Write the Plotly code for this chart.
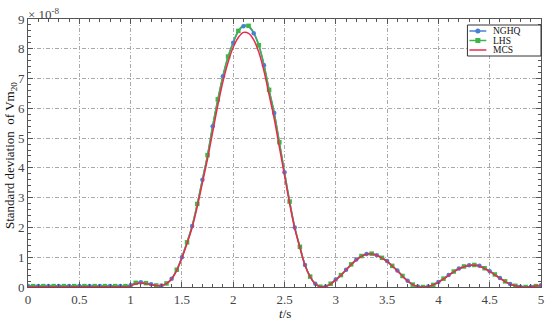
import plotly.graph_objects as go

# time axis (s), step 0.05
t = [round(i * 0.05, 2) for i in range(101)]

nghq = [0.03, 0.03, 0.03, 0.03, 0.03, 0.03, 0.03, 0.03, 0.03, 0.03,
        0.03, 0.03, 0.03, 0.03, 0.03, 0.03, 0.03, 0.03, 0.03, 0.03,
        0.06, 0.14, 0.16, 0.13, 0.09, 0.05, 0.05, 0.12, 0.28, 0.58,
        1.00, 1.50, 2.05, 2.78, 3.60, 4.42, 5.40, 6.28, 7.08, 7.72,
        8.20, 8.58, 8.76, 8.74, 8.52, 8.10, 7.45, 6.60, 5.84, 4.85,
        3.85, 2.87, 2.00, 1.35, 0.74, 0.35, 0.11, 0.01, 0.02, 0.11,
        0.25, 0.40, 0.58, 0.76, 0.92, 1.04, 1.11, 1.12, 1.07, 0.98,
        0.87, 0.71, 0.55, 0.37, 0.21, 0.08, 0.02, 0.00, 0.02, 0.07,
        0.17, 0.28, 0.40, 0.52, 0.62, 0.69, 0.73, 0.74, 0.71, 0.63,
        0.53, 0.42, 0.30, 0.19, 0.10, 0.04, 0.01, 0.00, 0.01, 0.03,
        0.06]

lhs = [0.03, 0.03, 0.03, 0.03, 0.03, 0.03, 0.03, 0.03, 0.03, 0.03,
       0.03, 0.03, 0.03, 0.03, 0.03, 0.03, 0.03, 0.03, 0.03, 0.03,
       0.06, 0.14, 0.16, 0.13, 0.09, 0.05, 0.05, 0.12, 0.28, 0.58,
       1.00, 1.50, 2.06, 2.79, 3.61, 4.43, 5.41, 6.30, 7.10, 7.74,
       8.22, 8.60, 8.78, 8.77, 8.55, 8.12, 7.47, 6.62, 5.85, 4.86,
       3.86, 2.87, 2.00, 1.35, 0.74, 0.35, 0.11, 0.01, 0.02, 0.11,
       0.25, 0.40, 0.58, 0.76, 0.92, 1.04, 1.11, 1.12, 1.07, 0.98,
       0.87, 0.71, 0.55, 0.37, 0.21, 0.08, 0.02, 0.00, 0.02, 0.07,
       0.17, 0.28, 0.40, 0.52, 0.62, 0.69, 0.73, 0.74, 0.71, 0.63,
       0.53, 0.42, 0.30, 0.19, 0.10, 0.04, 0.01, 0.00, 0.01, 0.03,
       0.06]

mcs = [0.01, 0.01, 0.01, 0.01, 0.01, 0.01, 0.01, 0.01, 0.01, 0.01,
       0.01, 0.01, 0.01, 0.01, 0.01, 0.01, 0.01, 0.01, 0.01, 0.01,
       0.03, 0.11, 0.13, 0.11, 0.08, 0.05, 0.05, 0.11, 0.27, 0.56,
       0.97, 1.46, 2.00, 2.70, 3.50, 4.30, 5.20, 6.10, 6.90, 7.55,
       8.05, 8.38, 8.55, 8.52, 8.30, 7.88, 7.25, 6.45, 5.65, 4.70,
       3.75, 2.80, 1.96, 1.32, 0.72, 0.34, 0.10, 0.01, 0.02, 0.10,
       0.24, 0.39, 0.57, 0.75, 0.91, 1.03, 1.10, 1.11, 1.06, 0.97,
       0.86, 0.70, 0.54, 0.36, 0.20, 0.08, 0.02, 0.00, 0.02, 0.07,
       0.16, 0.27, 0.39, 0.51, 0.61, 0.68, 0.72, 0.73, 0.70, 0.62,
       0.52, 0.41, 0.29, 0.18, 0.09, 0.04, 0.01, 0.00, 0.01, 0.03,
       0.05]

series_names = ["NGHQ", "LHS", "MCS"]
x_ticks = [0, 0.5, 1, 1.5, 2, 2.5, 3, 3.5, 4, 4.5, 5]
x_tick_text = ["0", "0.5", "1", "1.5", "2", "2.5", "3", "3.5", "4", "4.5", "5"]
y_ticks = [0, 1, 2, 3, 4, 5, 6, 7, 8, 9]

BLUE = "#4a7fd8"
GREEN = "#3db54a"
RED = "#ec2a4a"
FONT = "Liberation Serif"

fig = go.Figure()

fig.add_trace(go.Scatter(x=t, y=nghq, mode="lines", name=series_names[0],
                         line=dict(color=BLUE, width=1.5, shape="spline"), hoverinfo="skip"))
fig.add_trace(go.Scatter(x=t, y=lhs, mode="lines", name=series_names[1],
                         line=dict(color=GREEN, width=1.5, shape="spline"), hoverinfo="skip"))
fig.add_trace(go.Scatter(x=t[0::2], y=nghq[0::2], mode="markers", name=series_names[0],
                         marker=dict(color=BLUE, size=4.5, symbol="circle")))
fig.add_trace(go.Scatter(x=t[1::2], y=lhs[1::2], mode="markers", name=series_names[1],
                         marker=dict(color=GREEN, size=4.5, symbol="square")))
fig.add_trace(go.Scatter(x=t, y=mcs, mode="lines", name=series_names[2],
                         line=dict(color=RED, width=1.5, shape="spline")))

axis_common = dict(
    showline=True, linecolor="#555", linewidth=1, mirror="ticks",
    ticks="inside", ticklen=5, tickcolor="#555", tickwidth=1,
    showgrid=True, gridcolor="#aaaaaa", griddash="4px,2px,1px,2px", gridwidth=1,
    zeroline=False, ticklabeloverflow="allow",
    tickfont=dict(family=FONT, size=13, color="#444"),
)

fig.update_xaxes(range=[0, 5], tickvals=x_ticks, ticktext=x_tick_text,
                 minor=dict(dtick=0.1, ticks="inside", ticklen=3, tickcolor="#555", showgrid=False),
                 **axis_common)
fig.update_yaxes(range=[0, 9], tickvals=y_ticks,
                 minor=dict(dtick=0.2, ticks="inside", ticklen=3, tickcolor="#555", showgrid=False),
                 **axis_common)

# axis titles
fig.add_annotation(text="Standard deviation  of Vm<sub>20</sub>", textangle=-90,
                   xref="paper", yref="paper", x=0, y=0.5, xshift=-18, yshift=-3,
                   xanchor="center", yanchor="middle",
                   showarrow=False, font=dict(family=FONT, size=13, color="#111"))
fig.add_annotation(text="<i>t</i>/s", xref="paper", yref="paper", x=0.5, y=0, yshift=-26,
                   xanchor="center", yanchor="middle", borderpad=0,
                   showarrow=False, font=dict(family=FONT, size=13, color="#222"))
fig.add_annotation(text="× 10<sup>-8</sup>", xref="paper", yref="paper", x=0, y=1,
                   xanchor="left", yanchor="bottom", xshift=-2, yshift=-5,
                   showarrow=False, font=dict(family=FONT, size=13, color="#444"))

# compact legend box (drawn in paper coordinates)
L, R, B, T = 28, 544, 287, 19
def px(xp):
    return (xp - L) / (R - L)
def py(yp):
    return (B - yp) / (B - T)

shapes = [dict(type="rect", xref="paper", yref="paper", x0=px(470), x1=1.0, y0=py(56), y1=py(25),
               line=dict(color="#333", width=1), fillcolor="white", layer="above")]
rows = [31, 40.5, 50]
colors = [BLUE, GREEN, RED]
symbols = ["circle", "rect", None]
for yr, c, s, name in zip(rows, colors, symbols, series_names):
    shapes.append(dict(type="line", xref="paper", yref="paper", x0=px(472), x1=px(489),
                       y0=py(yr), y1=py(yr), line=dict(color=c, width=1.5), layer="above"))
    if s:
        shapes.append(dict(type=s, xref="paper", yref="paper", xsizemode="pixel", ysizemode="pixel",
                           xanchor=px(480.5), yanchor=py(yr), x0=-2.5, x1=2.5, y0=-2.5, y1=2.5,
                           line=dict(width=0), fillcolor=c, layer="above"))
    fig.add_annotation(text=name, xref="paper", yref="paper", x=px(495), y=py(yr),
                       xanchor="left", yanchor="middle", showarrow=False, borderpad=0,
                       font=dict(family=FONT, size=9.5, color="#111"))

fig.update_layout(
    width=550, height=321,
    margin=dict(l=L, r=550 - R, t=T, b=321 - B),
    paper_bgcolor="white", plot_bgcolor="white",
    font=dict(family=FONT),
    showlegend=False,
    shapes=shapes,
)

fig.write_html("out.html", config={"displayModeBar": False},
               post_script="document.body.style.margin='0';document.body.style.overflow='hidden';")
